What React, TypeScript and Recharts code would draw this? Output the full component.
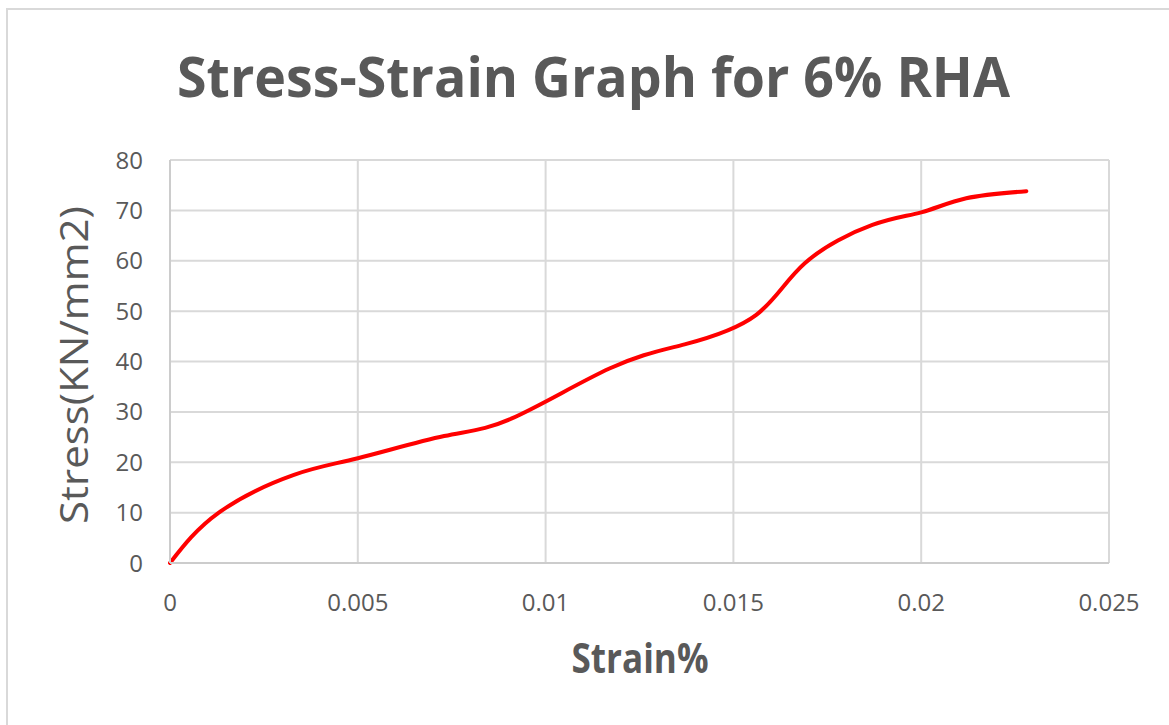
import React from 'react';
import { LineChart, Line, XAxis, YAxis, CartesianGrid, Label } from 'recharts';

// Strain (%) readings
const strain: number[] = [
  0, 0.0013, 0.0033, 0.005, 0.0073, 0.0091, 0.0117, 0.0137, 0.0156,
  0.0169, 0.0187, 0.02, 0.0212, 0.0228,
];

// Stress (KN/mm2) readings
const stress: number[] = [
  0, 10, 17.5, 20.8, 25.2, 28.7, 38.6, 43.4, 49.2,
  59.5, 67.1, 69.6, 72.4, 73.8,
];

const xTicks: number[] = [0, 0.005, 0.01, 0.015, 0.02, 0.025];
const yTicks: number[] = [0, 10, 20, 30, 40, 50, 60, 70, 80];

const title = 'Stress-Strain Graph for 6% RHA';
const xTitle = 'Strain%';
const yTitle = 'Stress(KN/mm2)';

const data = strain.map((s, i) => ({ strain: s, stress: stress[i] }));

const TEXT = '#595959';
const GRID = '#d9d9d9';
const FONT = '"Open Sans", "Noto Sans", sans-serif';

export default function App() {
  return (
    <div style={{ position: 'absolute', left: 0, top: 0, width: 1169, height: 725, background: '#fff' }}>
      <LineChart
        width={1169}
        height={725}
        data={data}
        margin={{ top: 160, right: 60, bottom: 0, left: 0 }}
      >
        <CartesianGrid stroke={GRID} strokeWidth={2} horizontal vertical />
        <XAxis
          dataKey="strain"
          type="number"
          domain={[0, 0.025]}
          ticks={xTicks}
          tickFormatter={(v: number) => String(v)}
          interval={0}
          height={162}
          tickSize={0}
          tickMargin={31}
          tickLine={false}
          axisLine={{ stroke: '#cccccc', strokeWidth: 2 }}
          tick={{ fill: TEXT, fontSize: 24, fontFamily: FONT }}
        >
          <Label
            content={() => (
              <text
                x={640}
                y={673}
                textAnchor="middle"
                fill={TEXT}
                fontFamily={FONT}
                fontWeight={700}
                fontSize={42}
                textLength={137}
                lengthAdjust="spacingAndGlyphs"
              >
                {xTitle}
              </text>
            )}
          />
        </XAxis>
        <YAxis
          type="number"
          domain={[0, 80]}
          ticks={yTicks}
          interval={0}
          width={170}
          tickSize={0}
          tickMargin={27}
          tickLine={false}
          axisLine={{ stroke: '#cccccc', strokeWidth: 2 }}
          tick={{ fill: TEXT, fontSize: 24, fontFamily: FONT }}
        >
          <Label
            content={() => (
              <text
                x={88}
                y={365}
                transform="rotate(-90 88 365)"
                textAnchor="middle"
                fill={TEXT}
                fontFamily={FONT}
                fontSize={38}
                textLength={318}
                lengthAdjust="spacingAndGlyphs"
              >
                {yTitle}
              </text>
            )}
          />
        </YAxis>
        <Line
          type="natural"
          dataKey="stress"
          stroke="#ff0000"
          strokeWidth={4}
          strokeLinecap="round"
          dot={false}
          activeDot={false}
          isAnimationActive={false}
        />
      </LineChart>
      <svg
        width={1169}
        height={725}
        style={{ position: 'absolute', left: 0, top: 0, pointerEvents: 'none' }}
      >
        <path d="M7 725 L7 9 L1169 9" fill="none" stroke={GRID} strokeWidth={2} />
        <text
          x={593.5}
          y={97}
          textAnchor="middle"
          fill={TEXT}
          fontFamily={FONT}
          fontWeight={700}
          fontSize={56}
          textLength={833}
          lengthAdjust="spacingAndGlyphs"
        >
          {title}
        </text>
      </svg>
    </div>
  );
}
